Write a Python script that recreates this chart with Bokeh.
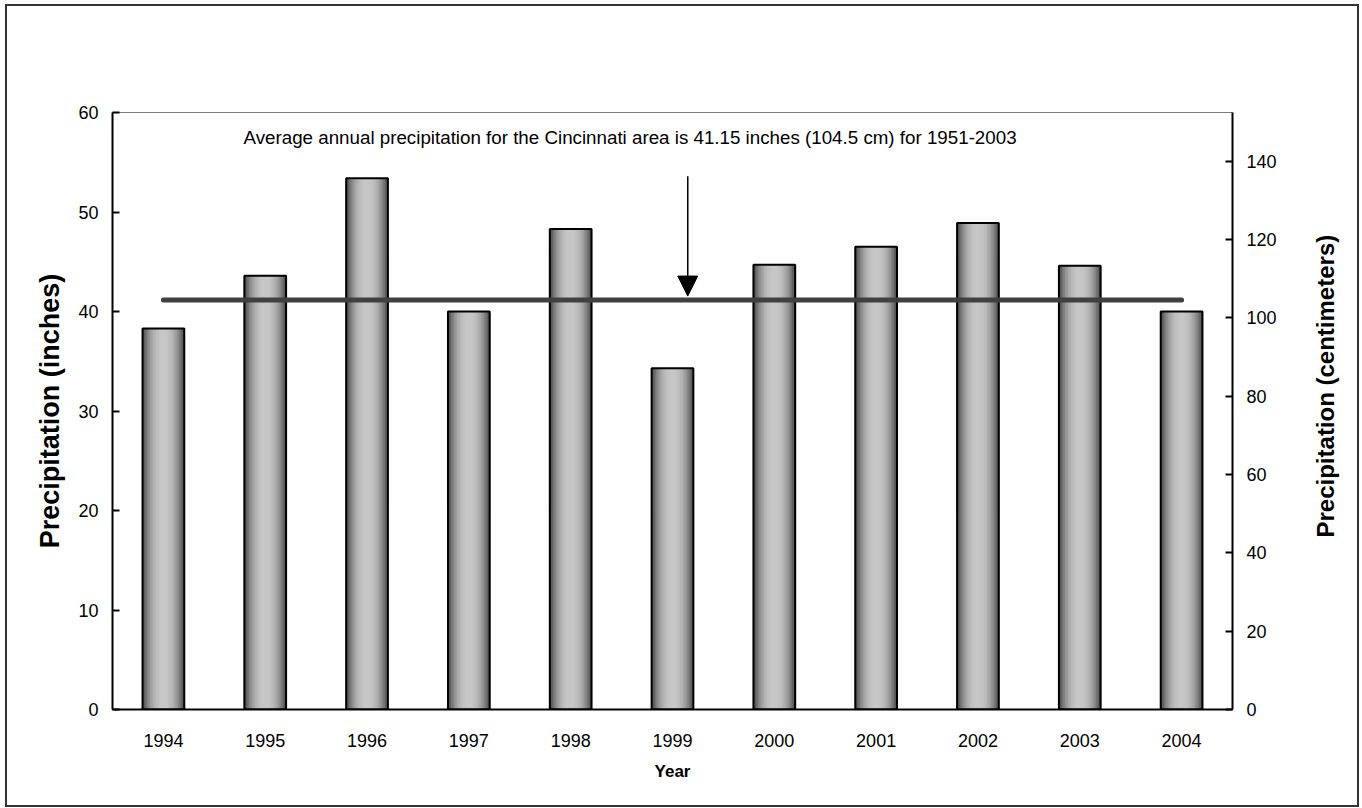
import math
from bokeh.plotting import figure
from bokeh.layouts import row
from bokeh.models import (Range1d, FactorRange, LinearAxis, FixedTicker, Label,
                          Arrow, NormalHead, Title)
from bokeh.embed import file_html
from bokeh.resources import INLINE

# ---------------- data ----------------
years = ["1994", "1995", "1996", "1997", "1998", "1999",
         "2000", "2001", "2002", "2003", "2004"]
precip_in = [38.3, 43.6, 53.4, 40.0, 48.3, 34.3, 44.7, 46.5, 48.9, 44.6, 40.0]
avg_in = 41.15
left_ticks = [0, 10, 20, 30, 40, 50, 60]
right_ticks = [0, 20, 40, 60, 80, 100, 120, 140]
note_text = ("Average annual precipitation for the Cincinnati area is "
             "41.15 inches (104.5 cm) for 1951-2003")
in_to_cm = 2.54

FONT = "Liberation Sans"

# content box sits inside a 2px CSS border starting at (5, 4)
OX, OY = 7, 6
H = 799
W1, W2 = 1290, 60
TOP, BOTTOM = 112 - OY, H + OY - 709

p = figure(width=W1, height=H, x_range=FactorRange(*years),
           y_range=Range1d(0, 60), output_backend="svg",
           toolbar_location=None, tools="")
p.x_range.range_padding = 0
p.extra_y_ranges = {"cm": Range1d(0, 60 * in_to_cm)}
p.min_border_left = 112 - OX
p.min_border_right = W1 + OX - 1232
p.min_border_top = TOP
p.min_border_bottom = BOTTOM
p.xgrid.visible = False
p.ygrid.visible = False
p.outline_line_color = "#7a7a7a"
p.outline_line_width = 1
p.background_fill_color = "white"
p.border_fill_color = "white"

# bars with cylinder-like shading (layers narrowing toward a light centre)
bar_w = 0.41
n = 14
for k in range(n):
    t = k / (n - 1)
    lvl = int(round(78 + (198 - 78) * (1 - (1 - t) ** 2.2)))
    col = "#%02x%02x%02x" % (lvl, lvl, lvl)
    p.vbar(x=years, top=precip_in, width=bar_w * (1 - k / n), bottom=0,
           fill_color=col, line_color=None)
p.vbar(x=years, top=precip_in, width=bar_w, bottom=0,
       fill_color=None, line_color="black", line_width=2)

# average line
p.line(x=[years[0], years[-1]], y=[avg_in, avg_in], line_color="#404040",
       line_width=5, line_cap="round")

# arrow
arrow_x = 5.65
p.add_layout(Arrow(x_start=arrow_x, y_start=53.6, x_end=arrow_x, y_end=avg_in + 0.4,
                   line_color="black", line_width=1.5,
                   end=NormalHead(size=20, fill_color="black", line_color="black")))

# note text
p.add_layout(Label(x=1.287, y=57.5, text=note_text, text_align="left",
                   text_baseline="middle", text_font=FONT,
                   text_font_size="18.75px", text_color="black"))

# axes styling
def style_axis(ax, size="18px"):
    ax.axis_line_color = "black"
    ax.axis_line_width = 2
    ax.major_label_text_font = FONT
    ax.major_label_text_font_size = size
    ax.major_label_text_color = "black"
    ax.minor_tick_line_color = None

yl = p.yaxis[0]
style_axis(yl)
yl.ticker = FixedTicker(ticks=left_ticks)
yl.major_tick_in = 7
yl.major_tick_out = 0
yl.major_tick_line_width = 2
yl.major_tick_line_color = "black"
yl.major_label_standoff = 14
yl.axis_label = "Precipitation (inches)"
yl.axis_label_text_font = FONT
yl.axis_label_text_font_style = "bold"
yl.axis_label_text_font_size = "27px"
yl.axis_label_text_color = "black"
yl.axis_label_standoff = 10

yr = LinearAxis(y_range_name="cm", ticker=FixedTicker(ticks=right_ticks))
style_axis(yr)
yr.major_tick_in = 7
yr.major_tick_out = 0
yr.major_tick_line_width = 2
yr.major_tick_line_color = "black"
yr.major_label_standoff = 14
p.add_layout(yr, "right")

xa = p.xaxis[0]
style_axis(xa)
xa.major_tick_line_color = None
xa.major_label_standoff = 18
xa.axis_label = "Year"
xa.axis_label_text_font = FONT
xa.axis_label_text_font_style = "bold"
xa.axis_label_text_font_size = "17px"
xa.axis_label_text_color = "black"
xa.axis_label_standoff = 12

# narrow side panel carrying the centimetre axis title (reads upward)
p2 = figure(width=W2, height=H, x_range=Range1d(0, 1),
            y_range=Range1d(0, 60 * in_to_cm), output_backend="svg",
            toolbar_location=None, tools="")
p2.scatter(x=[], y=[])
p2.min_border_left = 46
p2.min_border_right = 0
p2.min_border_top = TOP
p2.min_border_bottom = BOTTOM
p2.xaxis.visible = False
p2.yaxis.visible = False
p2.xgrid.visible = False
p2.ygrid.visible = False
p2.outline_line_color = None
p2.background_fill_color = "white"
p2.border_fill_color = "white"
p2.add_layout(Title(text="Precipitation (centimeters)", align="left", offset=172,
                    standoff=10, text_font=FONT, text_font_style="bold",
                    text_font_size="24px", text_color="black"), "left")

layout = row(p, p2)
layout.margin = (4, 0, 0, 5)
layout.styles = {"border": "2px solid #333333"}

open("out.html", "w").write(file_html(layout, INLINE))
